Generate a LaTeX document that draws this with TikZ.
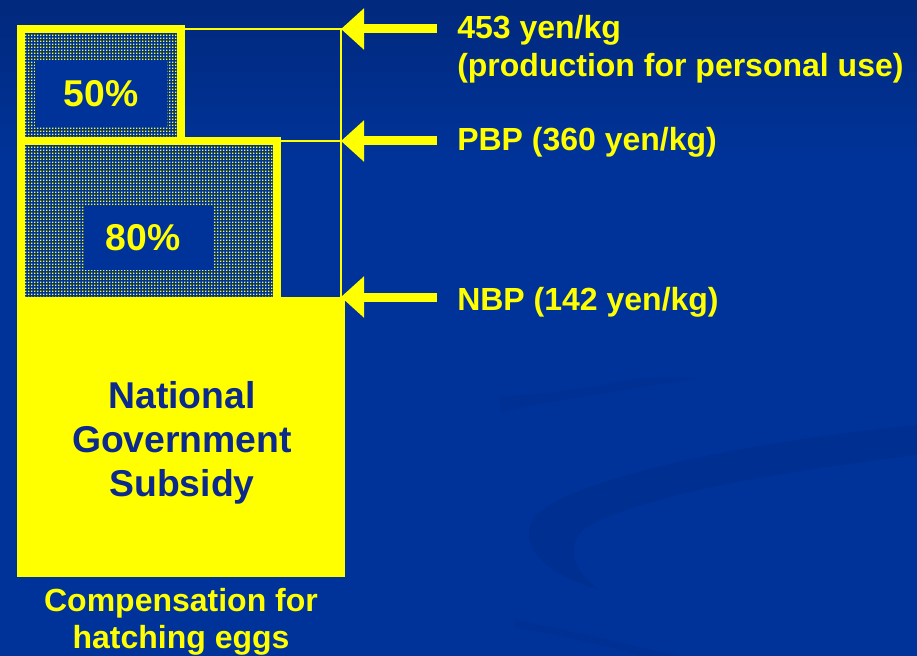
\documentclass[tikz,border=0pt]{standalone}
\usepackage{fontspec}
\setmainfont{Liberation Sans}
\usetikzlibrary{arrows.meta,patterns,calc}

\definecolor{slideblue}{RGB}{0,51,153}
\definecolor{slidetop}{RGB}{1,41,125}
\definecolor{swooshblue}{RGB}{0,44,138}
\definecolor{markyellow}{RGB}{255,255,0}
\definecolor{textblue}{RGB}{12,42,140}

\pgfdeclarepatternformonly{stipple}{\pgfqpoint{0pt}{0pt}}{\pgfqpoint{2.4pt}{2.4pt}}{\pgfqpoint{2.4pt}{2.4pt}}%
  {\pgfpathrectangle{\pgfqpoint{0pt}{0pt}}{\pgfqpoint{1.3pt}{1.3pt}}\pgfusepath{fill}}

\tikzset{
  pricearrow/.style={draw=markyellow, line width=6.75pt, -{Triangle[length=17.25pt,width=30pt]}},
  guide/.style={draw=markyellow, line width=1.1pt},
  pricetext/.style={text=markyellow, inner sep=0pt, font=\bfseries\fontsize{24}{28.5}\selectfont},
  sharebox/.style={fill=slideblue, text=markyellow, inner sep=0pt, font=\bfseries\fontsize{28}{33}\selectfont},
  stippled/.style={preaction={fill=slideblue}, pattern=stipple, pattern color=markyellow},
}

\begin{document}
\begin{tikzpicture}[x=0.75pt,y=0.75pt,yscale=-1,xscale=1]
	\useasboundingbox (0,0) rectangle (917,656);
	
	%Background
	\fill [slideblue] (0,0) rectangle (917,656);
	\shade [top color=slidetop, bottom color=slideblue] (0,0) rectangle (917,160);
	%Shape: Swoosh
	\fill [swooshblue, opacity=0.45] (917,425) .. controls (760,440) and (580,475) .. (535,515) .. controls (515,545) and (545,575) .. (600,590) .. controls (570,570) and (565,540) .. (590,525) .. controls (660,490) and (800,470) .. (917,455) -- cycle ;
	\fill [swooshblue, opacity=0.3] (500,412) .. controls (560,400) and (640,388) .. (700,378) -- (640,378) .. controls (590,388) and (540,395) .. (500,396) -- cycle ;
	\fill [swooshblue, opacity=0.3] (515,620) .. controls (570,630) and (630,645) .. (680,656) -- (640,656) .. controls (600,645) and (560,635) .. (515,628) -- cycle ;
	
	%Shape: Rectangle (personal use share)
	\fill [markyellow] (17,25) rectangle (185,137) ;
	\fill [stippled] (25,33) rectangle (177,137) ;
	%Shape: Rectangle (PBP share)
	\fill [markyellow] (17,137) rectangle (281,297) ;
	\fill [stippled] (25,145) rectangle (273,297) ;
	%Shape: Rectangle (subsidy)
	\fill [markyellow] (17,297) rectangle (345,577) ;
	
	%Straight Lines
	\coordinate (tip453) at (341,29) ;
	\coordinate (tippbp) at (341,141) ;
	\coordinate (tipnbp) at (341,297) ;
	\draw [guide] (185,29) -- (tip453) -- (tipnbp) ;
	\draw [guide] (281,141) -- (tippbp) ;
	
	% Text Node
	\node (pct50) at (101,93.5) [sharebox, minimum width=99pt, minimum height=50pt] {50\%};
	% Text Node
	\node (pct80) at (149,237.5) [sharebox, minimum width=96pt, minimum height=49pt] {80\%\hspace*{9pt}};
	% Text Node
	\node (subsidy) at (182,443) [text=textblue, inner sep=0pt, align=center, font=\bfseries\fontsize{28}{33}\selectfont] {National\\Government\\Subsidy};
	% Text Node
	\node (comp) at (181,622) [text=markyellow, inner sep=0pt, align=center, font=\bfseries\fontsize{24}{28}\selectfont] {Compensation for\\hatching eggs};
	% Text Node
	\node (lbl453) at (457,15) [pricetext, anchor=north west, align=left] {453 yen/kg\\(production for personal use)};
	% Text Node
	\node (lblpbp) at (457,151) [pricetext, anchor=base west] {PBP (360 yen/kg)};
	% Text Node
	\node (lblnbp) at (457,310) [pricetext, anchor=base west] {NBP (142 yen/kg)};
	
	%Arrows
	\draw [pricearrow] ($(lbl453.west |- tip453)+(-15pt,0)$) -- (tip453) ;
	\draw [pricearrow] ($(lblpbp.west |- tippbp)+(-15pt,0)$) -- (tippbp) ;
	\draw [pricearrow] ($(lblnbp.west |- tipnbp)+(-15pt,0)$) -- (tipnbp) ;
	
\end{tikzpicture}
\end{document}
